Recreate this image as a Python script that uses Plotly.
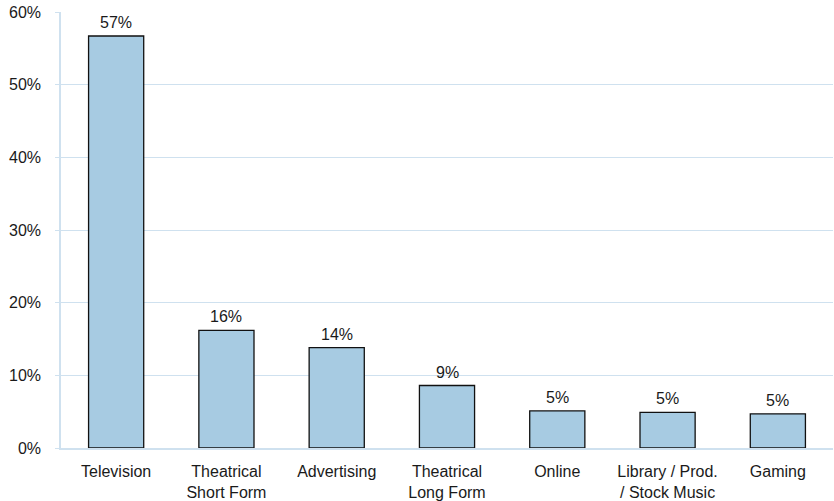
import plotly.graph_objects as go

# Share of revenue by media segment
categories = [
    "Television",
    "Theatrical<br>Short Form",
    "Advertising",
    "Theatrical<br>Long Form",
    "Online",
    "Library / Prod.<br>/ Stock Music",
    "Gaming",
]
shares = [56.7, 16.2, 13.8, 8.6, 5.1, 4.9, 4.7]
tick_values = [0, 10, 20, 30, 40, 50, 60]
tick_labels = [f"{v}%" for v in tick_values]

FONT = "Liberation Sans, Arial, sans-serif"
GRID = "#cfe1ef"

fig = go.Figure(
    go.Bar(
        x=categories,
        y=shares,
        width=0.5,
        marker=dict(color="#a7cbe2", line=dict(color="#111111", width=1.3)),
        hoverinfo="skip",
    )
)

for cat, v in zip(categories, shares):
    fig.add_annotation(
        x=cat, y=v, text=f"{round(v)}%", showarrow=False,
        yanchor="bottom", yshift=3,
        font=dict(family=FONT, size=16, color="#1a1a1a"),
    )

fig.update_layout(
    width=834, height=501,
    margin=dict(l=61, r=1, t=12, b=53, autoexpand=False),
    paper_bgcolor="white", plot_bgcolor="white",
    showlegend=False,
    font=dict(family=FONT, size=16, color="#1a1a1a"),
)
fig.update_yaxes(
    range=[0, 60], tickvals=tick_values, ticktext=tick_labels,
    showgrid=True, gridcolor=GRID, gridwidth=1.3,
    showline=True, linecolor=GRID, linewidth=1.5,
    ticks="outside", ticklen=4, tickcolor=GRID,
    ticklabelstandoff=11, zeroline=False, automargin=False,
)
fig.update_xaxes(
    showline=True, linecolor=GRID, linewidth=2,
    showgrid=False, ticks="", ticklabelstandoff=8, automargin=False,
)

fig.write_html("out.html")
